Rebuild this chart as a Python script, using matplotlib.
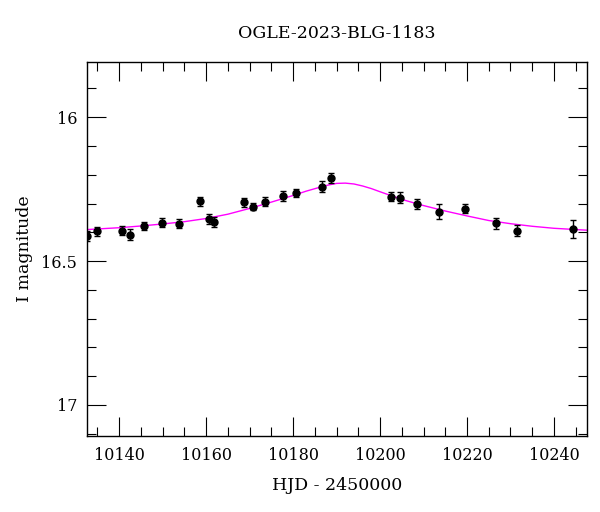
import matplotlib
matplotlib.use("Agg")
import matplotlib.pyplot as plt
from matplotlib.ticker import MultipleLocator, FixedLocator, FixedFormatter

# Observed data (HJD - 2450000, I magnitude, error)
hjd = [10132.6, 10134.9, 10140.6, 10142.6, 10145.7, 10149.8, 10153.7, 10158.6,
       10160.6, 10161.8, 10168.7, 10170.7, 10173.6, 10177.7, 10180.6, 10186.6,
       10188.7, 10202.5, 10204.6, 10208.5, 10213.6, 10219.5, 10226.6, 10231.5,
       10244.4]
mag = [16.414, 16.397, 16.394, 16.408, 16.377, 16.366, 16.370, 16.292,
       16.354, 16.364, 16.295, 16.311, 16.293, 16.273, 16.264, 16.241,
       16.212, 16.276, 16.280, 16.302, 16.329, 16.318, 16.368, 16.394,
       16.389]
err = [0.017, 0.015, 0.016, 0.020, 0.014, 0.015, 0.016, 0.016,
       0.016, 0.018, 0.016, 0.013, 0.017, 0.017, 0.014, 0.018,
       0.018, 0.016, 0.019, 0.017, 0.026, 0.016, 0.019, 0.018,
       0.031]

# Model curve
model_t = [10132, 10140, 10145, 10150, 10155, 10160, 10165, 10170, 10175,
           10180, 10183, 10186, 10188, 10190, 10192, 10194, 10196, 10198,
           10200, 10203, 10206, 10210, 10215, 10220, 10225, 10230, 10235,
           10240, 10248]
model_mag = [16.391, 16.384, 16.378, 16.371, 16.363, 16.352, 16.337, 16.317,
             16.295, 16.272, 16.257, 16.244, 16.236, 16.230, 16.229, 16.232,
             16.239, 16.248, 16.259, 16.275, 16.290, 16.307, 16.326, 16.343,
             16.359, 16.370, 16.379, 16.386, 16.393]

title = "OGLE-2023-BLG-1183"
xlabel = "HJD - 2450000"
ylabel = "I magnitude"
xticks = [10140, 10160, 10180, 10200, 10220, 10240]
yticks = [16, 16.5, 17]
ytick_labels = ["16", "16.5", "17"]

plt.rcParams['font.family'] = ['DejaVu Serif']

fig = plt.figure(figsize=(6, 5.12), dpi=100)
ax = fig.add_axes([87/600, 1-436/512, 500/600, 374/512])

ax.plot(model_t, model_mag, color='#ff00ff', lw=1.0, zorder=2)
ax.errorbar(hjd, mag, yerr=err, fmt='o', color='black', ms=5,
            elinewidth=1.0, capsize=2.2, capthick=1.0, zorder=3)

ax.set_xlim(10132.6, 10247.6)
ax.set_ylim(17.108, 15.808)

ax.xaxis.set_major_locator(FixedLocator(xticks))
ax.xaxis.set_minor_locator(MultipleLocator(5))
ax.yaxis.set_major_locator(FixedLocator(yticks))
ax.yaxis.set_major_formatter(FixedFormatter(ytick_labels))
ax.yaxis.set_minor_locator(MultipleLocator(0.1))

ax.tick_params(which='both', direction='in', top=True, right=True,
               labelsize=11.5, width=0.8, color='black')
ax.tick_params(which='major', length=13.5)
ax.tick_params(axis='x', which='major', pad=8)
ax.tick_params(axis='y', which='major', pad=7)
ax.tick_params(which='minor', length=6.5)
for s in ax.spines.values():
    s.set_linewidth(1.0)

ax.set_title(title, fontsize=12.5, pad=17)
ax.set_xlabel(xlabel, fontsize=12.5, labelpad=9)
ax.set_ylabel(ylabel, fontsize=12.5, labelpad=6)

fig.savefig("out.png", dpi=100)
